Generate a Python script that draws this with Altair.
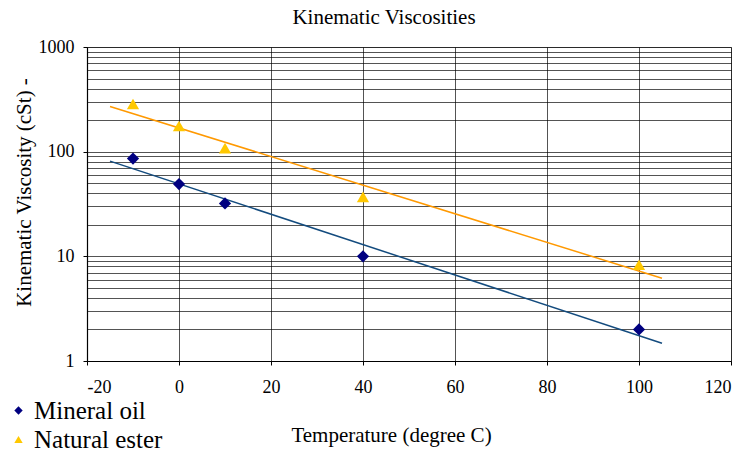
import altair as alt
import pandas as pd

temps = [-10, 0, 10, 40, 100]
mineral_oil = [86, 49, 32, 10, 2]
natural_ester = [285, 176, 108, 37, 8.3]
series_names = ["Mineral oil", "Natural ester"]
x_ticks = [-20, 0, 20, 40, 60, 80, 100, 120]
y_grid = [m * 10 ** e for e in range(3) for m in range(1, 10)] + [1000]

rows = []
for t, v in zip(temps, mineral_oil):
    rows.append({"series": series_names[0], "temperature": t, "viscosity": v})
for t, v in zip(temps, natural_ester):
    rows.append({"series": series_names[1], "temperature": t, "viscosity": v})
df = pd.DataFrame(rows)

serif = "Liberation Serif"
decade = "datum.value == 1 || datum.value == 10 || datum.value == 100 || datum.value == 1000"

x_enc = alt.X(
    "temperature:Q",
    scale=alt.Scale(domain=[-20, 120], nice=False, zero=False),
    axis=alt.Axis(
        values=x_ticks, title="Temperature (degree C)", grid=True,
        gridColor="#000000", gridWidth=0.8, gridOpacity=0.85,
        tickSize=4, labelPadding=13, labelFont=serif, labelFontSize=18,
        labelExpr="'' + datum.value",
        titleX=304, titleY=80, titleAlign="center", titleBaseline="alphabetic",
        titleFont=serif, titleFontSize=21,
    ),
)
y_enc = alt.Y(
    "viscosity:Q",
    scale=alt.Scale(type="log", domain=[1, 1000], nice=False),
    axis=alt.Axis(
        values=y_grid, title="Kinematic Viscosity (cSt)     -", grid=True,
        gridColor="#000000", gridWidth=0.8, gridOpacity=0.85,
        tickSize=4, labelPadding=9, labelFont=serif, labelFontSize=18,
        labelExpr="(" + decade + ") ? ('' + datum.value) : ''",
        tickColor={"condition": {"test": decade, "value": "#000000"}, "value": "transparent"},
        titleX=-57, titleY=145, titleAngle=270, titleAlign="center",
        titleBaseline="alphabetic", titleFont=serif, titleFontSize=21,
    ),
)

base = alt.Chart(df)

def trend(name, color):
    return (
        base.transform_filter(alt.datum.series == name)
        .transform_calculate(lnv="log(datum.viscosity)")
        .transform_regression("temperature", "lnv", method="linear", extent=[-15, 105])
        .transform_calculate(viscosity="exp(datum.lnv)")
        .mark_line(color=color, strokeWidth=1.5)
        .encode(x=x_enc, y=y_enc)
    )

line_min = trend("Mineral oil", "#134b7e")
line_est = trend("Natural ester", "#ff9900")

legend = alt.Legend(
    title=None, orient="none", legendX=-81, legendY=351,
    labelFont=serif, labelFontSize=25, labelColor="#000000",
    symbolSize=70, rowPadding=3, labelOffset=3,
)

points = base.mark_point(filled=True, opacity=1, size=150).encode(
    x=x_enc,
    y=y_enc,
    color=alt.Color(
        "series:N",
        scale=alt.Scale(domain=series_names, range=["#000080", "#ffc800"]),
        legend=legend,
    ),
    shape=alt.Shape(
        "series:N",
        scale=alt.Scale(domain=series_names, range=["diamond", "triangle-up"]),
        legend=legend,
    ),
)

chart = (
    alt.layer(line_min, line_est, points)
    .properties(
        width=644, height=314,
        background="white",
        title=alt.TitleParams("Kinematic Viscosities", font=serif, fontSize=21,
                              fontWeight="normal", color="#000000", offset=22,
                              dx=-25, dy=12),
        autosize=alt.AutoSizeParams(type="none"),
        padding={"left": 87, "top": 47, "right": 15, "bottom": 90},
    )
    .configure(font=serif)
    .configure_view(stroke="#808080", strokeWidth=1)
    .configure_axis(
        labelFont=serif, labelFontSize=18, labelColor="#000000",
        titleFont=serif, titleFontSize=21, titleFontWeight="normal", titleColor="#000000",
        domainColor="#000000", domainWidth=1.2, tickColor="#000000",
    )
    .configure_legend(labelFont=serif)
)

chart.save("out.html", embed_options={"renderer": "svg", "actions": False})
